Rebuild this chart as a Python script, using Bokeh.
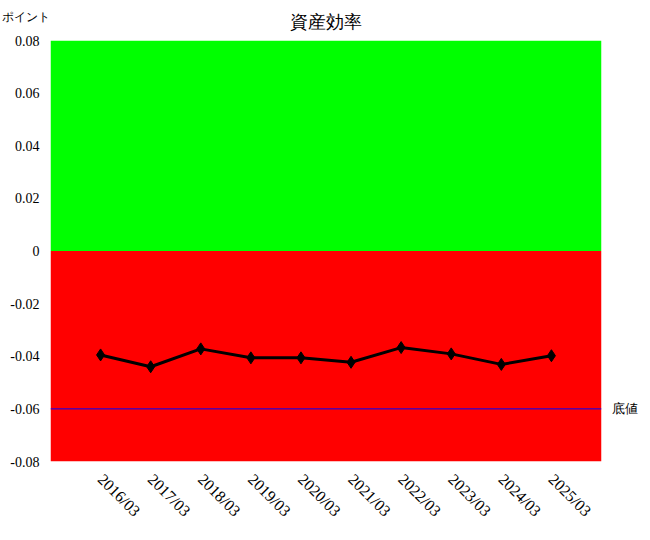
import math
from bokeh.plotting import figure
from bokeh.models import Range1d, FixedTicker, BoxAnnotation, Span, LinearAxis
from bokeh.embed import file_html
from bokeh.resources import INLINE

title_text = "資産効率"
y_label = "ポイント"
floor_label = "底値"
periods = ["2016/03", "2017/03", "2018/03", "2019/03", "2020/03",
           "2021/03", "2022/03", "2023/03", "2024/03", "2025/03"]
values = [-0.0395, -0.0440, -0.0372, -0.0406, -0.0406,
          -0.0423, -0.0367, -0.0391, -0.0431, -0.0398]
floor_value = -0.06
y_ticks = [-0.08, -0.06, -0.04, -0.02, 0, 0.02, 0.04, 0.06, 0.08]
y_tick_labels = ["-0.08", "-0.06", "-0.04", "-0.02", "0", "0.02", "0.04", "0.06", "0.08"]
y_min, y_max = -0.08, 0.08

xs = list(range(1, len(periods) + 1))
x_start, x_end = 0, len(periods) + 1

FONT = "serif"

p = figure(frame_width=551, frame_height=421, output_backend="svg",
           toolbar_location=None, x_range=Range1d(x_start, x_end),
           y_range=Range1d(y_min, y_max),
           min_border_left=50, min_border_right=40, min_border_top=40,
           min_border_bottom=66)
p.outline_line_color = None
p.background_fill_color = "white"
p.xgrid.visible = False
p.ygrid.visible = False
p.title.visible = False

p.add_layout(BoxAnnotation(bottom=0, top=y_max, fill_color="#00ff00", fill_alpha=1, line_color=None, level="underlay"))
p.add_layout(BoxAnnotation(bottom=y_min, top=0, fill_color="#ff0000", fill_alpha=1, line_color=None, level="underlay"))
p.add_layout(Span(location=floor_value, dimension="width", line_color="#0000ff", line_width=1))

p.line(xs, values, line_color="black", line_width=3)
p.scatter(xs, values, marker="diamond", size=12, fill_color="black", line_color="black")

left_axis = p.yaxis[0]
bottom_axis = p.xaxis[0]

left_axis.ticker = FixedTicker(ticks=y_ticks)
left_axis.major_label_overrides = {t: s for t, s in zip(y_ticks, y_tick_labels)}
left_axis.major_label_standoff = 5

bottom_axis.ticker = FixedTicker(ticks=xs)
bottom_axis.major_label_overrides = {x: s for x, s in zip(xs, periods)}
bottom_axis.major_label_orientation = -math.pi / 4
bottom_axis.major_label_standoff = 9

right_axis = LinearAxis(ticker=FixedTicker(ticks=[floor_value]),
                        major_label_overrides={floor_value: floor_label})
p.add_layout(right_axis, "right")

# top axis: unit label at the left corner, chart title as the axis label
top_axis = LinearAxis(ticker=FixedTicker(ticks=[x_start]),
                      major_label_overrides={x_start: y_label},
                      major_label_orientation=-1e-6)
p.add_layout(top_axis, "above")

for ax in (bottom_axis, left_axis, right_axis, top_axis):
    ax.axis_line_color = None
    ax.major_tick_line_color = None
    ax.minor_tick_line_color = None
    ax.major_label_text_font = FONT
    ax.major_label_text_font_size = "14px"
    ax.major_label_text_color = "black"
    ax.axis_label_text_font = FONT
    ax.axis_label_text_font_style = "normal"
    ax.axis_label_text_color = "black"

bottom_axis.major_label_text_font_size = "16px"
right_axis.major_label_text_font_size = "13px"
right_axis.major_label_standoff = 4

top_axis.major_label_text_font_size = "12px"
top_axis.major_label_standoff = 17
top_axis.axis_label = title_text
top_axis.axis_label_text_font_size = "18px"
top_axis.axis_label_standoff = -32

open("out.html", "w").write(file_html(p, INLINE))
